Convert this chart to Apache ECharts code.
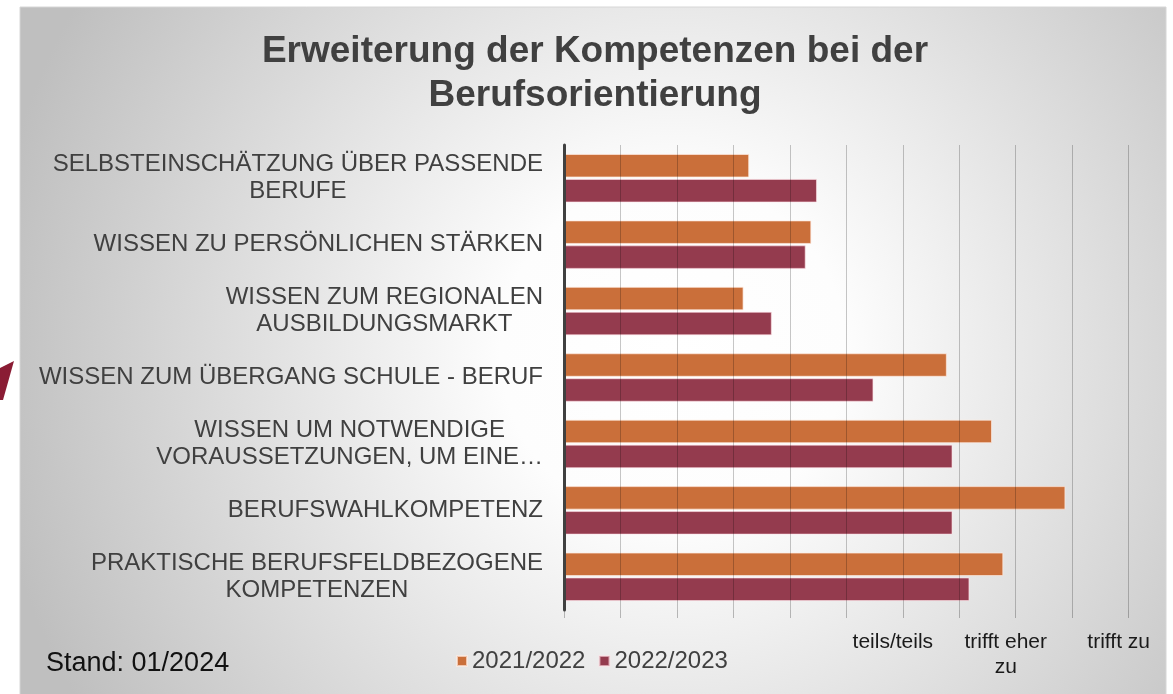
<!DOCTYPE html>
<html>
<head>
<meta charset="UTF-8">
<title>Erweiterung der Kompetenzen bei der Berufsorientierung</title>
<script src="https://cdn.jsdelivr.net/npm/echarts@6/dist/echarts.min.js"></script>
<style>
  html, body { margin: 0; padding: 0; background: #ffffff; }
  #main { width: 1173px; height: 694px; }
</style>
</head>
<body>
	<div id="main"></div>
	<script type="text/javascript">
		// Kategorien (von oben nach unten)
		var categories = [
			'SELBSTEINSCHÄTZUNG ÜBER PASSENDE\nBERUFE',
			'WISSEN ZU PERSÖNLICHEN STÄRKEN',
			'WISSEN ZUM REGIONALEN\nAUSBILDUNGSMARKT',
			'WISSEN ZUM ÜBERGANG SCHULE - BERUF',
			'WISSEN UM NOTWENDIGE\nVORAUSSETZUNGEN, UM EINE…',
			'BERUFSWAHLKOMPETENZ',
			'PRAKTISCHE BERUFSFELDBEZOGENE\nKOMPETENZEN'
		];
		var seriesNames = ['2021/2022', '2022/2023'];
		var values2122 = [1.64, 2.19, 1.59, 3.39, 3.79, 4.44, 3.89];
		var values2223 = [2.24, 2.14, 1.84, 2.74, 3.44, 3.44, 3.59];
		// Beschriftung der Skala
		var tickValues = [3, 4, 5];
		var tickLabels = ['teils/teils', 'trifft eher\nzu', 'trifft zu'];

		var myChart = echarts.init(document.getElementById('main'));
		var option = {
			textStyle: { fontFamily: '"Liberation Sans", Arial, sans-serif' },
			color: ['#ca6f3a', '#943b4e'],
			graphic: [
				{
					type: 'rect', z: -10, silent: true,
					shape: { x: 20, y: 7, width: 1146, height: 690 },
					style: {
						fill: {
							type: 'radial', x: 0.57, y: 0.5, r: 1.0,
							colorStops: [
								{ offset: 0, color: '#ffffff' },
								{ offset: 0.25, color: '#fdfdfd' },
								{ offset: 1, color: '#bfbfbf' }
							]
						},
						stroke: '#d6d6d6', lineWidth: 1
					}
				},
				{
					type: 'polygon', z: -5, silent: true,
					shape: { points: [[0, 368], [14, 361], [3, 400], [0, 400]] },
					style: { fill: '#8a1c34' }
				},
				{
					type: 'text', left: 46, top: 650,
					style: { text: 'Stand: 01/2024', fontSize: 27, fill: '#111111', fontFamily: '"Liberation Sans", Arial, sans-serif' }
				}
			],
			title: {
				text: 'Erweiterung der Kompetenzen bei der\nBerufsorientierung',
				left: 595, top: 30, textAlign: 'center', padding: 0,
				textStyle: { fontSize: 37, fontWeight: 'bold', color: '#404040', lineHeight: 44 }
			},
			legend: {
				data: seriesNames,
				left: 456, top: 649, padding: 0,
				itemWidth: 10, itemHeight: 10, itemGap: 13, icon: 'rect',
				textStyle: { fontSize: 24, color: '#404040', lineHeight: 24 }
			},
			grid: { left: 564, right: 35, top: 145, bottom: 84 },
			xAxis: {
				type: 'value', min: 0, max: 5, interval: 0.5, z: 3,
				axisLine: { show: false },
				axisTick: { show: true, length: 8, lineStyle: { color: 'rgba(0,0,0,0.25)' } },
				splitLine: { show: true, lineStyle: { color: 'rgba(0,0,0,0.22)', width: 1 } },
				axisLabel: {
					margin: 20, fontSize: 21, color: '#1a1a1a', lineHeight: 25, padding: [0, 20, 0, 0],
					showMaxLabel: true,
					formatter: function (v) {
						var i = tickValues.indexOf(Math.round(v * 10) / 10);
						return i >= 0 ? tickLabels[i] : '';
					}
				}
			},
			yAxis: {
				type: 'category', data: categories, inverse: true, z: 4,
				axisLine: { show: true, lineStyle: { color: '#404040', width: 3 } },
				axisTick: { show: false },
				axisLabel: {
					margin: 21,
					formatter: function (v) {
						return v.split('\n').map(function (s) { return '{c|' + s + '}'; }).join('\n');
					},
					rich: { c: { fontSize: 24, color: '#404040', align: 'center', lineHeight: 27 } }
				}
			},
			series: [
				{
					name: seriesNames[0], type: 'bar', data: values2122,
					barCategoryGap: '27%', barGap: '6%',
					itemStyle: { borderColor: 'rgba(255,235,225,0.7)', borderWidth: 1 }
				},
				{
					name: seriesNames[1], type: 'bar', data: values2223,
					barCategoryGap: '27%', barGap: '6%',
					itemStyle: { borderColor: 'rgba(255,225,230,0.6)', borderWidth: 1 }
				}
			]
		};
		myChart.setOption(option);
	</script>
</body>
</html>
